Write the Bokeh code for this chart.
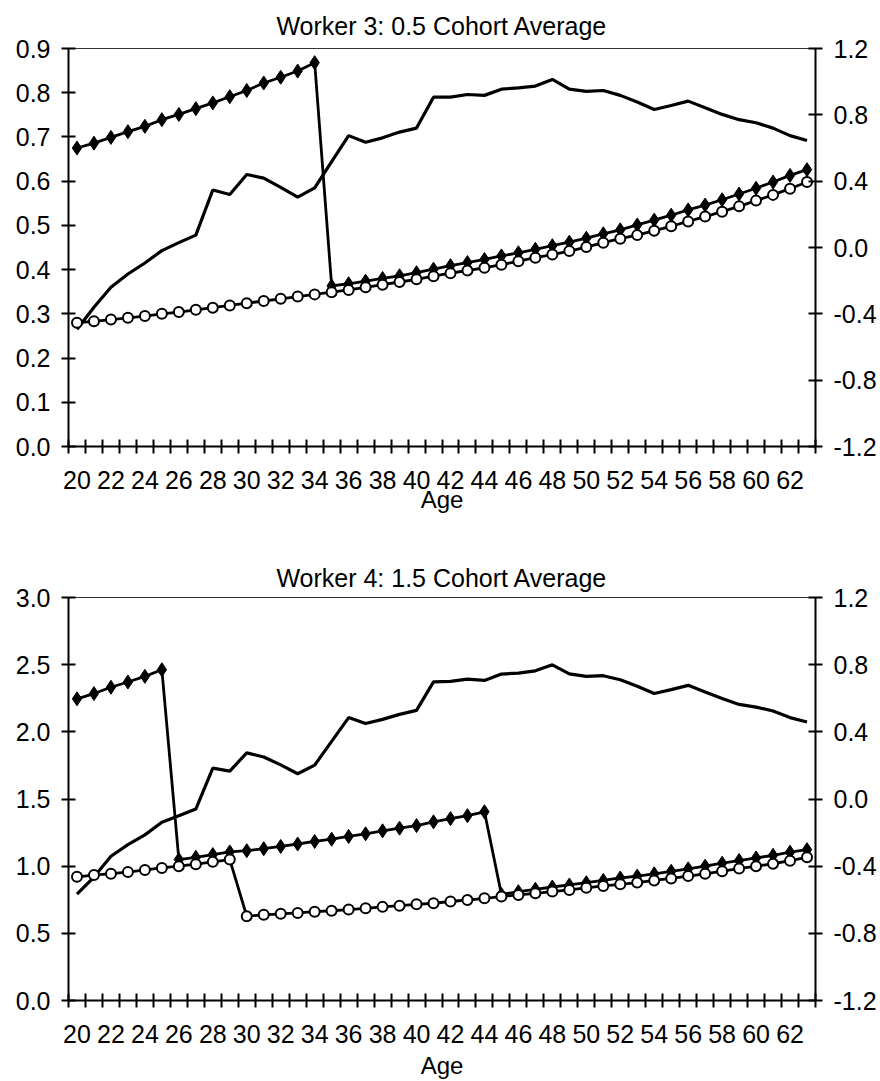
from bokeh.plotting import figure
from bokeh.layouts import column
from bokeh.models import (Range1d, LinearAxis, FixedTicker, PrintfTickFormatter,
                          ColumnDataSource)
from bokeh.embed import file_html
from bokeh.resources import INLINE

# Ages 20..63
ages = list(range(20, 64))

# Worker 3 (0.5 x cohort average)
earnings_w3 = [0.265, 0.315, 0.360, 0.390, 0.415, 0.443, 0.461, 0.478, 0.580, 0.570,
               0.615, 0.607, 0.586, 0.564, 0.585, 0.644, 0.703, 0.688, 0.698, 0.711,
               0.720, 0.790, 0.790, 0.796, 0.794, 0.808, 0.811, 0.815, 0.830, 0.808,
               0.803, 0.805, 0.794, 0.779, 0.762, 0.771, 0.781, 0.766, 0.751, 0.739,
               0.732, 0.720, 0.703, 0.692]
filled_w3 = [0.675, 0.686, 0.699, 0.712, 0.724, 0.739, 0.751, 0.764, 0.777, 0.791,
             0.805, 0.822, 0.835, 0.849, 0.868, 0.363, 0.368, 0.374, 0.380, 0.386,
             0.393, 0.401, 0.409, 0.416, 0.423, 0.431, 0.438, 0.446, 0.454, 0.462,
             0.471, 0.481, 0.490, 0.501, 0.512, 0.523, 0.535, 0.546, 0.558, 0.571,
             0.584, 0.598, 0.613, 0.626]
open_w3 = [0.280, 0.283, 0.287, 0.291, 0.295, 0.300, 0.304, 0.309, 0.314, 0.319,
           0.324, 0.329, 0.334, 0.339, 0.344, 0.349, 0.354, 0.360, 0.366, 0.372,
           0.378, 0.385, 0.392, 0.398, 0.404, 0.411, 0.419, 0.427, 0.434, 0.442,
           0.451, 0.461, 0.470, 0.478, 0.488, 0.498, 0.509, 0.520, 0.531, 0.543,
           0.556, 0.569, 0.583, 0.598]

# Worker 4 (1.5 x cohort average)
earnings_w4 = [0.791, 0.919, 1.074, 1.160, 1.233, 1.327, 1.376, 1.425, 1.730, 1.708,
               1.843, 1.813, 1.754, 1.688, 1.752, 1.929, 2.106, 2.062, 2.093, 2.130,
               2.160, 2.372, 2.376, 2.393, 2.383, 2.430, 2.437, 2.454, 2.499, 2.432,
               2.413, 2.418, 2.388, 2.339, 2.285, 2.314, 2.346, 2.297, 2.248, 2.204,
               2.184, 2.155, 2.106, 2.073]
filled_w4 = [2.246, 2.285, 2.332, 2.371, 2.413, 2.462, 1.049, 1.066, 1.086, 1.106,
             1.115, 1.130, 1.147, 1.165, 1.184, 1.201, 1.221, 1.241, 1.263, 1.283,
             1.302, 1.330, 1.354, 1.376, 1.405, 0.790, 0.810, 0.828, 0.845, 0.860,
             0.877, 0.894, 0.912, 0.926, 0.943, 0.962, 0.980, 1.000, 1.022, 1.042,
             1.061, 1.081, 1.104, 1.123]
open_w4 = [0.921, 0.934, 0.944, 0.956, 0.972, 0.987, 1.000, 1.015, 1.032, 1.049,
           0.627, 0.638, 0.645, 0.652, 0.661, 0.668, 0.677, 0.686, 0.697, 0.706,
           0.716, 0.724, 0.737, 0.748, 0.761, 0.774, 0.786, 0.798, 0.811, 0.823,
           0.839, 0.853, 0.865, 0.878, 0.894, 0.909, 0.926, 0.943, 0.963, 0.982,
           1.000, 1.018, 1.041, 1.066]

titles = ["Worker 3: 0.5 Cohort Average", "Worker 4: 1.5 Cohort Average"]
left_ticks_w3 = [0.0, 0.1, 0.2, 0.3, 0.4, 0.5, 0.6, 0.7, 0.8, 0.9]
left_ticks_w4 = [0.0, 0.5, 1.0, 1.5, 2.0, 2.5, 3.0]
right_ticks = [-1.2, -0.8, -0.4, 0.0, 0.4, 0.8, 1.2]
age_labels = list(range(20, 63, 2))
age_bounds = [a - 0.5 for a in range(20, 65)]

FONT = "Liberation Sans"
TICK_SIZE = "25px"


def style_axis(ax):
    ax.axis_line_width = 2
    ax.axis_line_color = "black"
    ax.major_tick_line_width = 2
    ax.major_tick_line_color = "black"
    ax.minor_tick_line_width = 2
    ax.minor_tick_line_color = "black"
    ax.major_label_text_font = FONT
    ax.major_label_text_font_size = TICK_SIZE
    ax.major_label_text_color = "black"
    ax.axis_label_text_font = FONT
    ax.axis_label_text_font_size = "24px"
    ax.axis_label_text_font_style = "normal"
    ax.axis_label_text_color = "black"


def make_panel(title, ymax, left_ticks, earnings, filled, opened,
               height, border_top, border_bottom, title_standoff, label_standoff):
    p = figure(width=880, height=height,
               x_range=Range1d(19.5, 63.5), y_range=Range1d(0, ymax),
               x_axis_type=None, y_axis_type=None,
               output_backend="svg", toolbar_location=None,
               min_border_left=68, min_border_right=65,
               min_border_top=border_top, min_border_bottom=border_bottom)
    p.extra_y_ranges = {"right": Range1d(-1.2, 1.2)}
    p.grid.visible = False
    p.outline_line_color = "#333333"
    p.outline_line_width = 1
    p.background_fill_color = "white"
    p.border_fill_color = "white"

    p.title.text = title
    p.title.align = "center"
    p.title.offset = -7
    p.title.text_font = FONT
    p.title.text_font_size = "25px"
    p.title.text_font_style = "normal"
    p.title.text_color = "black"
    p.title.standoff = title_standoff

    left = LinearAxis(ticker=FixedTicker(ticks=left_ticks),
                      formatter=PrintfTickFormatter(format="%.1f"),
                      major_tick_in=7, major_tick_out=7,
                      minor_tick_in=0, minor_tick_out=0,
                      major_label_standoff=11)
    style_axis(left)
    p.add_layout(left, "left")

    right = LinearAxis(y_range_name="right",
                       ticker=FixedTicker(ticks=right_ticks),
                       formatter=PrintfTickFormatter(format="%.1f"),
                       major_tick_in=7, major_tick_out=7,
                       minor_tick_in=0, minor_tick_out=0,
                       major_label_standoff=11)
    style_axis(right)
    p.add_layout(right, "right")

    bottom = LinearAxis(ticker=FixedTicker(ticks=age_labels, minor_ticks=age_bounds),
                        major_tick_in=0, major_tick_out=0,
                        minor_tick_in=7, minor_tick_out=7,
                        major_label_standoff=17,
                        axis_label="Age", axis_label_standoff=label_standoff)
    style_axis(bottom)
    p.add_layout(bottom, "below")

    src = ColumnDataSource(dict(age=ages, earn=earnings, filled=filled, opened=opened))
    p.line("age", "earn", source=src, line_color="black", line_width=3.2)
    p.line("age", "filled", source=src, line_color="black", line_width=2.8)
    p.scatter("age", "filled", source=src, marker="diamond", size=14,
              fill_color="black", line_color="black", line_width=1)
    p.line("age", "opened", source=src, line_color="black", line_width=2.8)
    p.scatter("age", "opened", source=src, marker="circle", size=10,
              fill_color="white", line_color="black", line_width=2)
    return p


top = make_panel(titles[0], 0.9, left_ticks_w3, earnings_w3, filled_w3, open_w3,
                 height=525, border_top=48, border_bottom=79,
                 title_standoff=18, label_standoff=-6)
bottom = make_panel(titles[1], 3.0, left_ticks_w4, earnings_w4, filled_w4, open_w4,
                    height=556, border_top=72, border_bottom=77,
                    title_standoff=12, label_standoff=6)

layout = column(top, bottom, spacing=0)
open("out.html", "w").write(file_html(layout, INLINE))
